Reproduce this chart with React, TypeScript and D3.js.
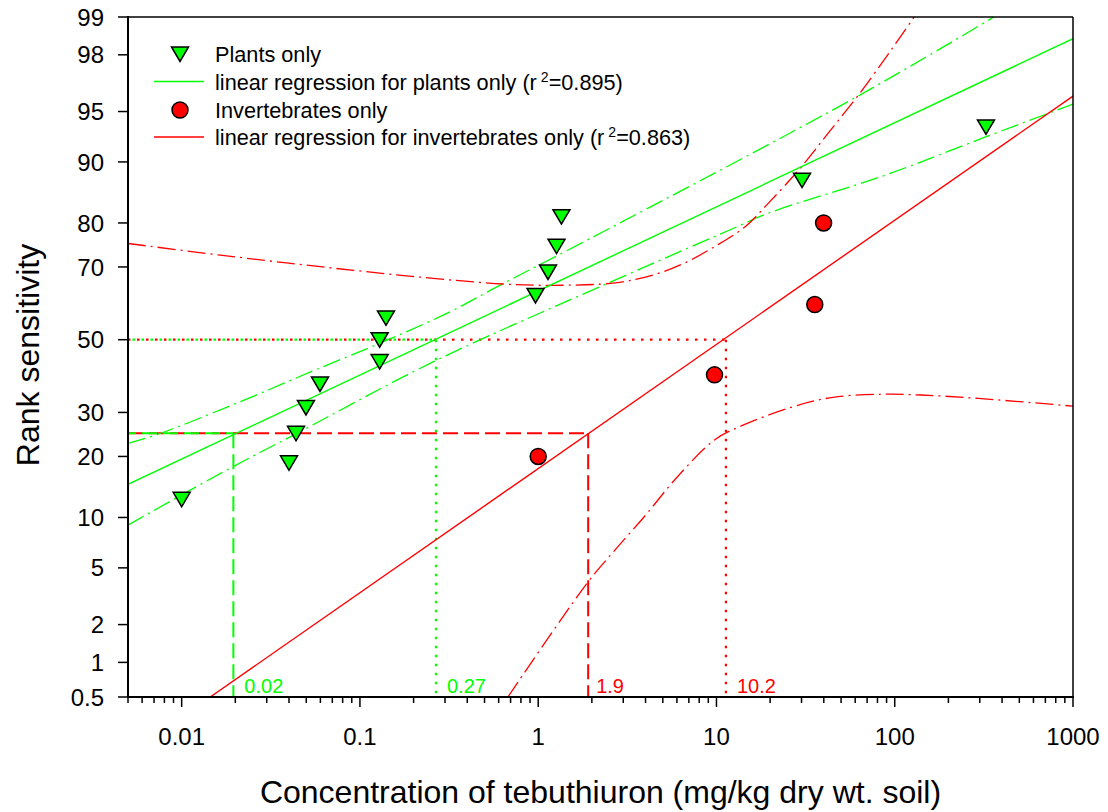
import React from "react";
import * as d3 from "d3";

// ---------- data ----------
const plantConc = [0.01, 0.040, 0.0438, 0.0498, 0.0597, 0.129, 0.129, 0.140, 0.966, 1.135, 1.267, 1.35, 30.2, 325];
const plantRank = [12.5, 18.75, 25, 31.25, 37.5, 43.75, 50, 56.25, 62.5, 68.75, 75, 81.25, 87.5, 93.75];

const invConc = [1.0, 9.75, 35.6, 39.9];
const invRank = [20, 40, 60, 80];

// regression lines (end points)
const plantFitConc = [0.005, 1000];
const plantFitRank = [14.85, 98.5];
const invFitConc = [0.01446, 1000];
const invFitRank = [0.5, 96.05];

// 95% confidence bands
const plantUpperConc = [0.005, 0.00742, 0.02132, 0.0549, 0.1356, 0.3209, 0.612, 2.227, 63.7, 359.6];
const plantUpperRank = [22.75, 24.83, 32.74, 41.16, 49.43, 58.0, 65.3, 77.85, 96.11, 99.0];
const plantLowerConc = [0.005, 0.01718, 0.04432, 0.2587, 2.227, 11.87, 19.5, 85.8, 325.6, 1000];
const plantLowerRank = [9.07, 17.06, 24.99, 43.7, 64.9, 78.55, 81.9, 88.1, 92.83, 95.53];

const invUpperConc = [0.005, 0.01647, 0.0599, 0.218, 0.639, 1.218, 2.696, 4.416, 6.56, 9.75, 14.49, 19.5, 28.9, 43.0, 63.7, 85.8, 104.4, 128.5];
const invUpperRank = [75.6, 72.9, 70.06, 67.4, 65.6, 65.25, 65.9, 67.96, 70.9, 74.87, 79.24, 83.72, 88.94, 93.32, 96.22, 97.75, 98.46, 99.0];
const invLowerConc = [0.676, 1.907, 2.696, 4.004, 5.94, 9.75, 13.76, 26.2, 45.1, 85.7, 140.6, 293.8, 1000];
const invLowerRank = [0.5, 4.05, 6.47, 10.3, 15.9, 23.5, 26.7, 31.3, 33.9, 34.7, 34.5, 33.6, 31.6];

// reference values
const plantHC25 = 0.0195;
const plantHC50 = 0.267;
const invHC25 = 1.907;
const invHC50 = 11.3;
const refLabels = ["0.02", "0.27", "1.9", "10.2"];

const xTickLabels = [0.01, 0.1, 1, 10, 100, 1000];
const xTickText = ["0.01", "0.1", "1", "10", "100", "1000"];
const yTicks = [0.5, 1, 2, 5, 10, 20, 30, 50, 70, 80, 90, 95, 98, 99];

const legendLabels = ["Plants only", "linear regression for plants only (r", "Invertebrates only", "linear regression for invertebrates only (r"];
const legendR2 = ["=0.895)", "=0.863)"];

// ---------- helpers ----------
function probit(p: number): number {
  const a = [-3.969683028665376e1, 2.209460984245205e2, -2.759285104469687e2, 1.38357751867269e2, -3.066479806614716e1, 2.506628277459239];
  const b = [-5.447609879822406e1, 1.615858368580409e2, -1.556989798598866e2, 6.680131188771972e1, -1.328068155288572e1];
  const c = [-7.784894002430293e-3, -3.223964580411365e-1, -2.400758277161838, -2.549671042234836, 4.374664141464968, 2.938163982698783];
  const d = [7.784695709041462e-3, 3.224671290700398e-1, 2.445134137142996, 3.754408661907416];
  const plow = 0.02425;
  const phigh = 1 - plow;
  let q: number, r: number;
  if (p < plow) {
    q = Math.sqrt(-2 * Math.log(p));
    return (((((c[0] * q + c[1]) * q + c[2]) * q + c[3]) * q + c[4]) * q + c[5]) / ((((d[0] * q + d[1]) * q + d[2]) * q + d[3]) * q + 1);
  } else if (p <= phigh) {
    q = p - 0.5;
    r = q * q;
    return ((((((a[0] * r + a[1]) * r + a[2]) * r + a[3]) * r + a[4]) * r + a[5]) * q) / (((((b[0] * r + b[1]) * r + b[2]) * r + b[3]) * r + b[4]) * r + 1);
  }
  q = Math.sqrt(-2 * Math.log(1 - p));
  return -(((((c[0] * q + c[1]) * q + c[2]) * q + c[3]) * q + c[4]) * q + c[5]) / ((((d[0] * q + d[1]) * q + d[2]) * q + d[3]) * q + 1);
}

const zip = (xs: number[], ys: number[]) => xs.map((v, i) => [v, ys[i]] as [number, number]);

const GREEN = "#00FF00";
const RED = "#FF0000";
const FONT = "'Liberation Sans', Arial, Helvetica, sans-serif";

export default function App() {
  const L = 128, R = 1073, T = 17, B = 697;
  const x = d3.scaleLog().domain([0.005, 1000]).range([L, R]);
  const yq = d3.scaleLinear().domain([probit(0.005), probit(0.99)]).range([B, T]);
  const y = (p: number) => yq(probit(p / 100));

  const straight = d3.line<[number, number]>().x((d) => x(d[0])).y((d) => y(d[1]));
  const smooth = d3
    .line<[number, number]>()
    .x((d) => x(d[0]))
    .y((d) => y(d[1]))
    .curve(d3.curveCatmullRom.alpha(0.5));

  const allTicks = x.ticks();
  const majorSet = new Set(xTickLabels.map((v) => Math.round(Math.log10(v))));
  const isMajor = (v: number) => Math.abs(Math.log10(v) - Math.round(Math.log10(v))) < 1e-9 && majorSet.has(Math.round(Math.log10(v)));

  const bandDash = "18 5 2 5";
  const dashed = "15 6";
  const dotted = "2.5 6.5";

  const tri = "M -8.5 -7 L 8.5 -7 L 0 7.5 Z";

  return (
    <svg width={1108} height={812} style={{ position: "absolute", left: 0, top: 0, background: "#fff" }} fontFamily={FONT}>
      <defs>
        <clipPath id="plot">
          <rect x={L} y={T} width={R - L} height={B - T} />
        </clipPath>
      </defs>

      {/* reference lines */}
      <g clipPath="url(#plot)">
        <line x1={x(0.005)} x2={x(invHC25)} y1={y(25)} y2={y(25)} stroke={RED} strokeWidth={2} strokeDasharray={dashed} />
        <line x1={x(0.005)} x2={x(plantHC25)} y1={y(25)} y2={y(25)} stroke={GREEN} strokeWidth={2} strokeDasharray={dashed} strokeDashoffset={-14} />
        <line x1={x(invHC25)} x2={x(invHC25)} y1={y(25)} y2={B} stroke={RED} strokeWidth={2} strokeDasharray={dashed} />
        <line x1={x(plantHC25)} x2={x(plantHC25)} y1={y(25)} y2={B} stroke={GREEN} strokeWidth={2} strokeDasharray={dashed} />
        <line x1={x(0.005)} x2={x(invHC50)} y1={y(50)} y2={y(50)} stroke={RED} strokeWidth={2.2} strokeDasharray={dotted} />
        <line x1={x(0.005)} x2={x(plantHC50)} y1={y(50)} y2={y(50)} stroke={GREEN} strokeWidth={2.2} strokeDasharray={dotted} strokeDashoffset={-4.5} />
        <line x1={x(invHC50)} x2={x(invHC50)} y1={y(50)} y2={B} stroke={RED} strokeWidth={2.2} strokeDasharray={dotted} />
        <line x1={x(plantHC50)} x2={x(plantHC50)} y1={y(50)} y2={B} stroke={GREEN} strokeWidth={2.2} strokeDasharray={dotted} />

        <path d={smooth(zip(plantUpperConc, plantUpperRank)) || ""} fill="none" stroke={GREEN} strokeWidth={1.3} strokeDasharray={bandDash} />
        <path d={smooth(zip(plantLowerConc, plantLowerRank)) || ""} fill="none" stroke={GREEN} strokeWidth={1.3} strokeDasharray={bandDash} />
        <path d={smooth(zip(invUpperConc, invUpperRank)) || ""} fill="none" stroke={RED} strokeWidth={1.3} strokeDasharray={bandDash} />
        <path d={smooth(zip(invLowerConc, invLowerRank)) || ""} fill="none" stroke={RED} strokeWidth={1.3} strokeDasharray={bandDash} />

        <path d={straight(zip(plantFitConc, plantFitRank)) || ""} fill="none" stroke={GREEN} strokeWidth={1.4} />
        <path d={straight(zip(invFitConc, invFitRank)) || ""} fill="none" stroke={RED} strokeWidth={1.4} />
      </g>

      <g fontSize={20}>
        <text x={x(plantHC25) + 11} y={693} fill={GREEN}>{refLabels[0]}</text>
        <text x={x(plantHC50) + 11} y={693} fill={GREEN}>{refLabels[1]}</text>
        <text x={x(invHC25) + 8} y={693} fill={RED}>{refLabels[2]}</text>
        <text x={x(invHC50) + 11} y={693} fill={RED}>{refLabels[3]}</text>
      </g>

      {plantConc.map((c, i) => (
        <path key={"p" + i} d={tri} transform={`translate(${x(c)},${y(plantRank[i])})`} fill={GREEN} stroke="#000" strokeWidth={1.5} strokeLinejoin="miter" />
      ))}
      {invConc.map((c, i) => (
        <circle key={"c" + i} cx={x(c)} cy={y(invRank[i])} r={8} fill={RED} stroke="#000" strokeWidth={1.5} />
      ))}

      <line x1={L} x2={R} y1={T} y2={T} stroke="#000" strokeWidth={1.5} />
      <line x1={R} x2={R} y1={T} y2={B} stroke="#000" strokeWidth={1.5} />
      <line x1={L} x2={R + 1} y1={B} y2={B} stroke="#000" strokeWidth={2} />
      <line x1={L} x2={L} y1={T - 1} y2={B} stroke="#000" strokeWidth={2} />

      {allTicks.map((t, i) => (
        <line key={"xt" + i} x1={x(t)} x2={x(t)} y1={B} y2={B + (isMajor(t) ? 10 : 6)} stroke="#000" strokeWidth={1.5} />
      ))}
      {xTickLabels.map((t, i) => (
        <text key={"xl" + i} x={x(t)} y={745} fontSize={24} textAnchor="middle" fill="#000">
          {xTickText[i]}
        </text>
      ))}

      {yTicks.map((t, i) => (
        <g key={"yt" + i}>
          <line x1={L - 10} x2={L} y1={y(t)} y2={y(t)} stroke="#000" strokeWidth={1.5} />
          <text x={104} y={y(t) + 8.6} fontSize={24} textAnchor="end" fill="#000">
            {String(t)}
          </text>
        </g>
      ))}

      <text x={600.5} y={803} fontSize={32} textAnchor="middle" fill="#000">
        Concentration of tebuthiuron (mg/kg dry wt. soil)
      </text>
      <text transform="translate(39,355) rotate(-90)" fontSize={32} textAnchor="middle" fill="#000">
        Rank sensitivity
      </text>

      <g fontSize={21.7} fill="#000">
        <path d={tri} transform="translate(180,54)" fill={GREEN} stroke="#000" strokeWidth={1.5} />
        <text x={215} y={62}>{legendLabels[0]}</text>
        <line x1={154} x2={204} y1={81.5} y2={81.5} stroke={GREEN} strokeWidth={1.5} />
        <text x={215} y={89.5}>
          {legendLabels[1]}
          <tspan fontSize={14} dx={4} dy={-8}>2</tspan>
          <tspan dy={8}>{legendR2[0]}</tspan>
        </text>
        <circle cx={180} cy={110} r={8} fill={RED} stroke="#000" strokeWidth={1.5} />
        <text x={215} y={117.5}>{legendLabels[2]}</text>
        <line x1={154} x2={204} y1={137} y2={137} stroke={RED} strokeWidth={1.5} />
        <text x={215} y={145}>
          {legendLabels[3]}
          <tspan fontSize={14} dx={4} dy={-8}>2</tspan>
          <tspan dy={8}>{legendR2[1]}</tspan>
        </text>
      </g>
    </svg>
  );
}
